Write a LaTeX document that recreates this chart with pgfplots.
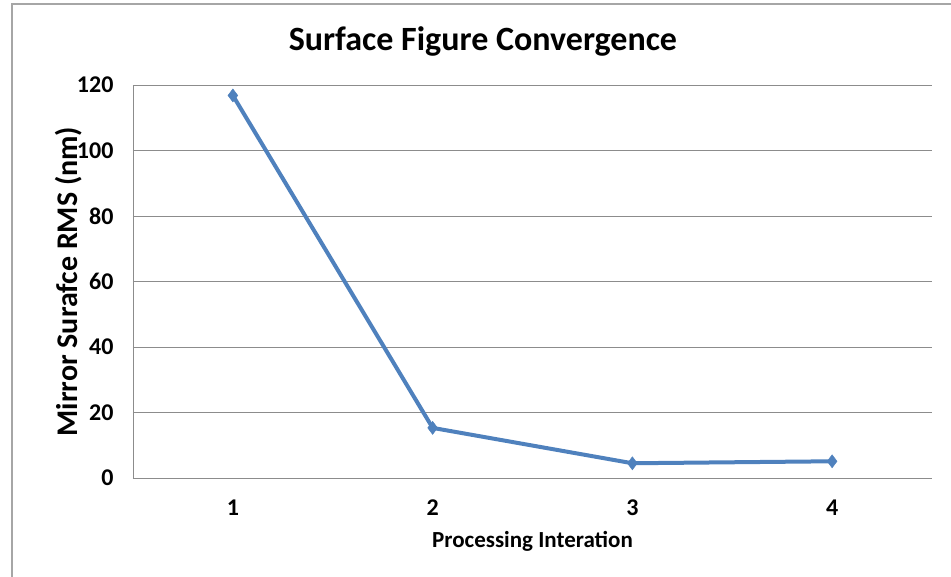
\documentclass[border=0pt]{standalone}
\usepackage{fontspec}
\setmainfont{Carlito}
\usepackage{pgfplots}
\pgfplotsset{compat=1.18}
\definecolor{xlblue}{HTML}{4F81BD}
\definecolor{gridgray}{HTML}{8C8C8C}
\definecolor{framegray}{HTML}{A6A6A6}
\begin{document}
\begin{tikzpicture}[x=1pt,y=1pt]
\useasboundingbox (0,0) rectangle (951,577);
% chart frame (cut off at right and bottom)
\draw[framegray, line width=1.5pt] (12,-10) -- (12,573) -- (970,573);
\node[font=\fontsize{34}{37}\selectfont\bfseries] at (483,536) {Surface Figure Convergence};
\begin{axis}[
    at={(133pt,99pt)}, anchor=south west,
    scale only axis, width=799pt, height=393pt,
    xmin=0.5, xmax=4.5, ymin=0, ymax=120,
    xtick={1,2,3,4}, ytick={0,20,...,120},
    axis x line*=bottom, axis y line*=left,
    axis line style={gridgray, line width=0.9pt, -},
    ymajorgrids, grid style={gridgray, line width=0.9pt},
    major tick length=0pt,
    /pgf/number format/assume math mode=true,
    tick label style={font=\fontsize{24}{27}\selectfont\bfseries},
    yticklabel style={xshift=-16pt},
    xticklabel style={yshift=-18pt},
    xlabel={Processing Interation},
    ylabel={Mirror Surafce RMS (nm)},
    xlabel style={font=\fontsize{23}{26}\selectfont\bfseries,
        at={(axis description cs:0.5,-0.160)}, anchor=center},
    ylabel style={font=\fontsize{30}{34}\selectfont\bfseries,
        at={(axis description cs:-0.080,0.5)}, anchor=center},
    clip=false,
]
\addplot[xlblue, line width=4pt, mark=diamond*, mark size=6.5pt,
         mark options={fill=xlblue, draw=xlblue, line width=0.5pt}]
    coordinates {(1,116.8) (2,15.3) (3,4.5) (4,5.1)};
\end{axis}
\end{tikzpicture}
\end{document}
